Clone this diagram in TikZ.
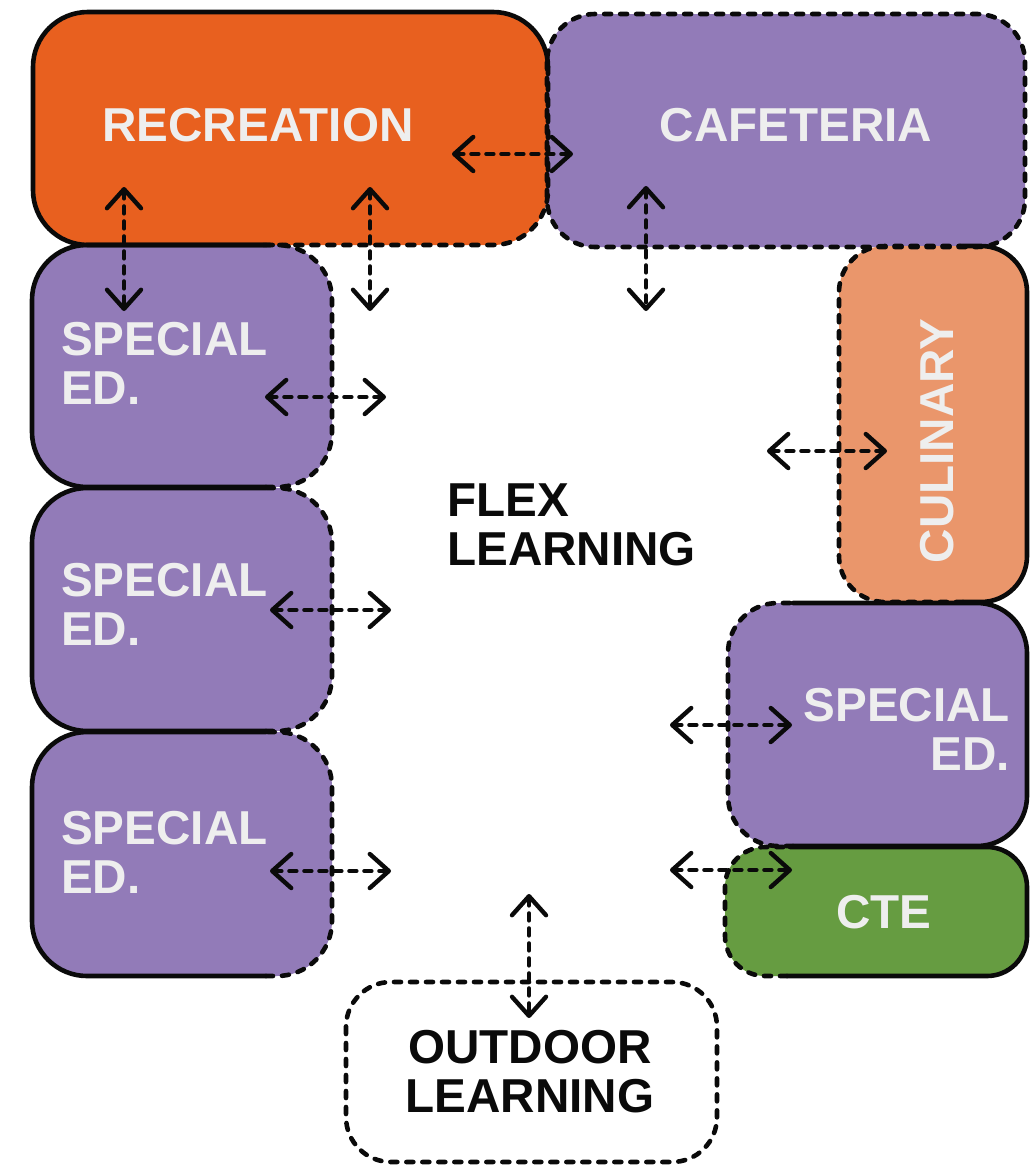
\documentclass[tikz,border=0pt]{standalone}
\usepackage{fontspec}
\setmainfont{Liberation Sans}
\usetikzlibrary{arrows.meta}
\definecolor{recc}{HTML}{E8601F}
\definecolor{purp}{HTML}{927BB8}
\definecolor{culc}{HTML}{EA966B}
\definecolor{ctec}{HTML}{669C41}
\definecolor{inkc}{HTML}{0A0A0A}
\definecolor{lblc}{HTML}{EEEEEE}
\begin{document}
\begin{tikzpicture}[x=1pt,y=-1pt,
  solidb/.style={draw=inkc,line width=4.6pt,line cap=round,line join=round},
  dashb/.style={draw=inkc,line width=4.6pt,line cap=round,dash pattern=on 7pt off 9pt},
  link/.style={draw=inkc,line width=4.4pt,line cap=round,dash pattern=on 7pt off 8pt,
    {Straight Barb[length=19pt,width=34pt,round]}-{Straight Barb[length=19pt,width=34pt,round]}},
  lab/.style={font=\fontsize{47.6}{49}\selectfont\bfseries,text=lblc,inner sep=0pt},
  dark/.style={lab,text=inkc}]
\useasboundingbox (0,0) rectangle (1029,1167);

% fills
\fill[recc,rounded corners=55pt] (33,12) rectangle (548,245);
\fill[purp,rounded corners=48pt] (547,14) rectangle (1025,247);
\fill[culc,rounded corners=46pt] (839,246) rectangle (1027,602);
\fill[purp,rounded corners=50pt] (728,603) rectangle (1027,846);
\fill[ctec,rounded corners=40pt] (725,847) rectangle (1027,976);
\fill[purp,rounded corners=55pt] (32,245) rectangle (332,487);
\fill[purp,rounded corners=55pt] (32,488) rectangle (332,731);
\fill[purp,rounded corners=55pt] (32,732) rectangle (332,976);

% recreation border
\draw[solidb,rounded corners=55pt] (264,245) -- (33,245) -- (33,12) -- (548,12) -- (548,67);
\draw[dashb,rounded corners=55pt] (548,67) -- (548,245) -- (264,245);
% cafeteria border
\draw[dashb,rounded corners=48pt] (547,14) rectangle (1025,247);
% culinary border
\draw[solidb,rounded corners=46pt] (960,246) -- (1027,246) -- (1027,602) -- (963,602);
\draw[dashb,rounded corners=46pt] (963,602) -- (839,602) -- (839,246) -- (960,246);
% right special ed border
\draw[solidb,rounded corners=50pt] (793,603) -- (1027,603) -- (1027,846) -- (793,846);
\draw[dashb,rounded corners=50pt] (793,846) -- (728,846) -- (728,603) -- (793,603);
% cte border
\draw[solidb,rounded corners=40pt] (790,847) -- (1027,847) -- (1027,976) -- (787,976);
\draw[dashb,rounded corners=40pt] (787,976) -- (725,976) -- (725,847) -- (790,847);
% left special ed borders
\draw[solidb,rounded corners=55pt] (266,245) -- (32,245) -- (32,487) -- (266,487);
\draw[dashb,rounded corners=55pt] (266,487) -- (332,487) -- (332,245) -- (266,245);
\draw[solidb,rounded corners=55pt] (266,488) -- (32,488) -- (32,731) -- (266,731);
\draw[dashb,rounded corners=55pt] (266,731) -- (332,731) -- (332,488) -- (266,488);
\draw[solidb,rounded corners=55pt] (266,732) -- (32,732) -- (32,976) -- (266,976);
\draw[dashb,rounded corners=55pt] (266,976) -- (332,976) -- (332,732) -- (266,732);
% outdoor border
\draw[dashb,rounded corners=45pt] (346,982) rectangle (717,1162);

% labels
\node[lab] (recreation) at (258,125) {RECREATION};
\node[lab] (cafeteria) at (796,125) {CAFETERIA};
\node[lab,rotate=90] (culinary) at (937,441) {CULINARY};
\node[lab,align=right,anchor=east] (spedR) at (1010,729) {SPECIAL\\ED.};
\node[lab] (cte) at (884,912) {CTE};
\node[lab,align=left,anchor=west] (spedA) at (61,363.5) {SPECIAL\\ED.};
\node[lab,align=left,anchor=west] (spedB) at (61,604) {SPECIAL\\ED.};
\node[lab,align=left,anchor=west] (spedC) at (61,852.5) {SPECIAL\\ED.};
\node[dark,align=left,anchor=west] (flex) at (447,524.5) {FLEX\\LEARNING};
\node[dark,align=center] (outdoor) at (530,1071.5) {OUTDOOR\\LEARNING};

% connector ends
\coordinate (a1s) at (452,154); \coordinate (a1e) at (573,154);
\coordinate (a2s) at (124,187); \coordinate (a2e) at (124,311);
\coordinate (a3s) at (370,187); \coordinate (a3e) at (370,311);
\coordinate (a4s) at (646,186); \coordinate (a4e) at (646,311);
\coordinate (a5s) at (265,397); \coordinate (a5e) at (386,397);
\coordinate (a6s) at (270,610); \coordinate (a6e) at (391,610);
\coordinate (a7s) at (270,871); \coordinate (a7e) at (391,871);
\coordinate (a8s) at (767,451); \coordinate (a8e) at (887,451);
\coordinate (a9s) at (670,725); \coordinate (a9e) at (792,725);
\coordinate (a10s) at (670,870); \coordinate (a10e) at (792,870);
\coordinate (a11s) at (529,894); \coordinate (a11e) at (529,1018);

\foreach \i in {1,...,11} \draw[link] (a\i s) -- (a\i e);
\end{tikzpicture}
\end{document}
